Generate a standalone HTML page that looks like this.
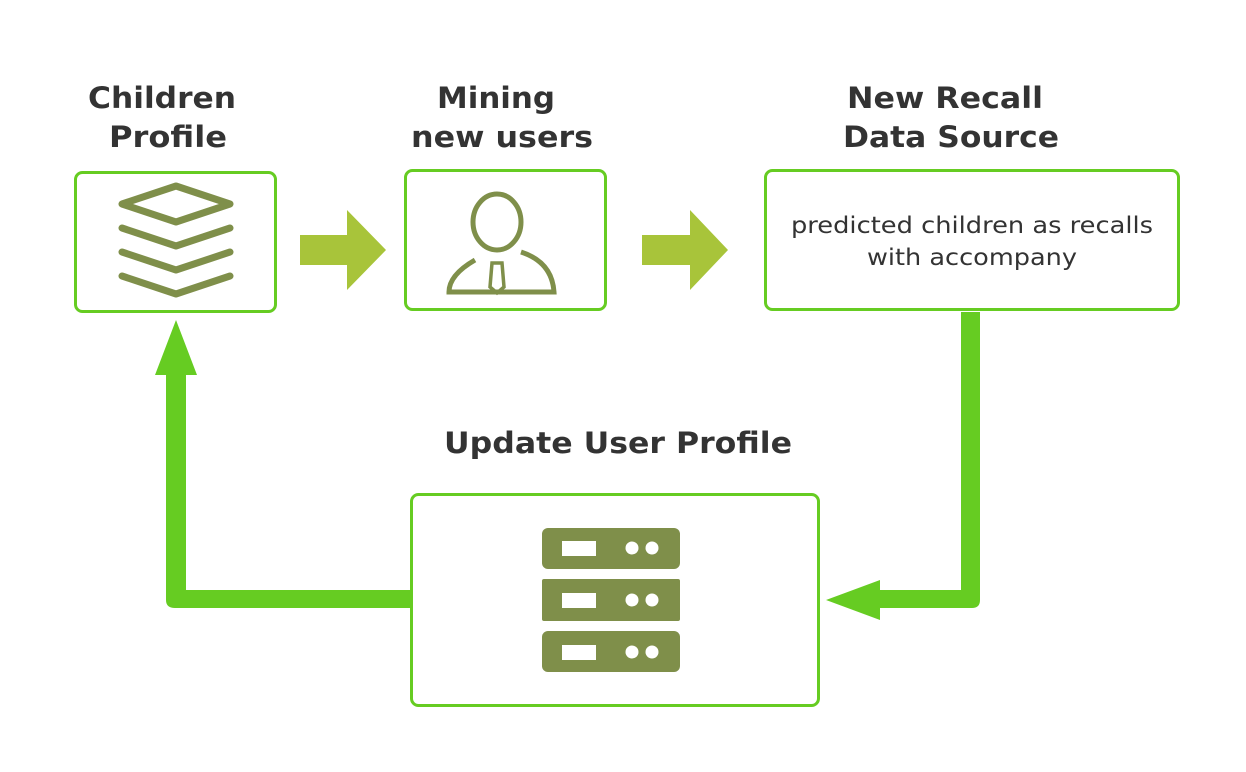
<!DOCTYPE html>
<html><head><meta charset="utf-8"><style>html,body{margin:0;padding:0;background:#fff}svg{display:block}</style></head>
<body>
<svg width="1246" height="772" viewBox="0 0 1246 772" xmlns="http://www.w3.org/2000/svg">
<rect width="1246" height="772" fill="#fff"/>
<g font-family="DejaVu Sans, Verdana, sans-serif" fill="#333" text-anchor="middle">
<g font-weight="bold" font-size="29">
<text x="162" y="108" textLength="148" lengthAdjust="spacingAndGlyphs">Children</text>
<text x="168" y="147" textLength="118" lengthAdjust="spacingAndGlyphs">Profile</text>
<text x="496" y="108" textLength="118" lengthAdjust="spacingAndGlyphs">Mining</text>
<text x="502" y="147" textLength="182" lengthAdjust="spacingAndGlyphs">new users</text>
<text x="945" y="108" textLength="196" lengthAdjust="spacingAndGlyphs">New Recall</text>
<text x="951" y="147" textLength="216" lengthAdjust="spacingAndGlyphs">Data Source</text>
<text x="618" y="453" textLength="348" lengthAdjust="spacingAndGlyphs">Update User Profile</text>
</g>
<g font-size="23">
<text x="972" y="233" textLength="362" lengthAdjust="spacingAndGlyphs">predicted children as recalls</text>
<text x="972" y="265" textLength="210" lengthAdjust="spacingAndGlyphs">with accompany</text>
</g>
</g>
<g fill="none" stroke="#66cc22" stroke-width="3">
<rect x="75.5" y="172.5" width="200" height="139" rx="7"/>
<rect x="405.5" y="170.5" width="200" height="139" rx="7"/>
<rect x="765.5" y="170.5" width="413" height="139" rx="7"/>
<rect x="411.5" y="494.5" width="407" height="211" rx="7"/>
</g>
<g fill="#a8c43a">
<polygon points="300,235 347,235 347,210 386,250 347,290 347,265 300,265"/>
<polygon points="642,235 690,235 690,210 728,250 690,290 690,265 642,265"/>
</g>
<g fill="#66cc22">
<path d="M961,312 H980 V600 Q980,608 972,608 H880 V620 L826,600 L880,580 V590 H961 Z"/>
<path d="M411,590 V608 H175 Q166,608 166,600 V375 H155 L176,320 L197,375 H186 V590 Z"/>
</g>
<g fill="none" stroke="#7f8f4a" stroke-width="7" stroke-linejoin="round" stroke-linecap="round">
<polygon points="122,204 176,186 230,204 176,222"/>
<polyline points="122,228 176,246 230,228"/>
<polyline points="122,252 176,270 230,252"/>
<polyline points="122,276 176,294 230,276"/>
</g>
<g fill="none" stroke="#7f8f4a" stroke-width="5">
<ellipse cx="497" cy="222" rx="24" ry="28"/>
<path d="M475,260 Q449,275 449,292 H554 Q552,262 521,252"/>
<path d="M492,263 H502 L504,287 L497,293 L490,287 Z" stroke-width="3.5"/>
</g>
<g fill="#7f8f4a">
<rect x="542" y="528" width="138" height="41" rx="6"/>
<rect x="542" y="579" width="138" height="42" rx="2"/>
<rect x="542" y="631" width="138" height="41" rx="6"/>
</g>
<g fill="#fff">
<rect x="562" y="541" width="34" height="15"/><circle cx="632" cy="548" r="6.5"/><circle cx="652" cy="548" r="6.5"/>
<rect x="562" y="593" width="34" height="15"/><circle cx="632" cy="600" r="6.5"/><circle cx="652" cy="600" r="6.5"/>
<rect x="562" y="645" width="34" height="15"/><circle cx="632" cy="652" r="6.5"/><circle cx="652" cy="652" r="6.5"/>
</g>
</svg>
</body></html>
